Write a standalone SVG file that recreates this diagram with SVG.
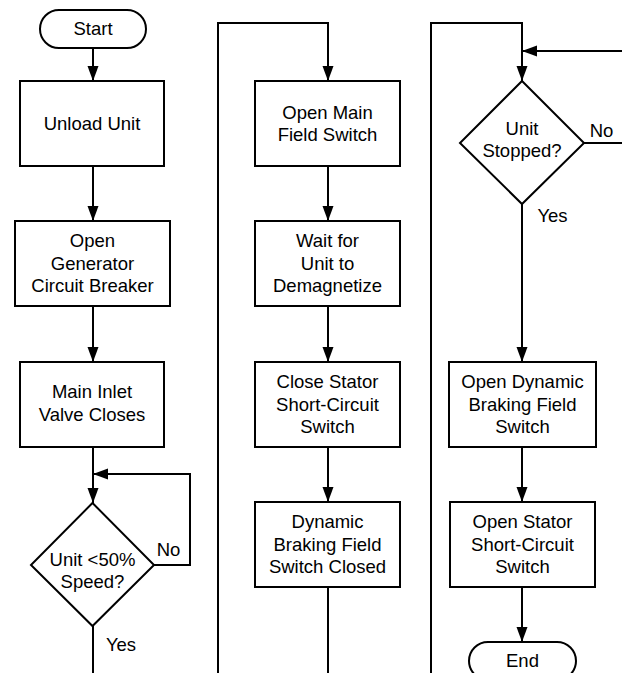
<svg xmlns="http://www.w3.org/2000/svg" width="622" height="673" viewBox="0 0 622 673">
  <style>
    .box { fill: #fff; stroke: #000; stroke-width: 2; }
    .wire { fill: none; stroke: #000; stroke-width: 2; }
    .arrow { marker-end: url(#head); }
    text { font-family: "Liberation Sans", Arial, sans-serif; font-size: 18.5px; fill: #000; text-anchor: middle; }
  </style>
  <defs>
    <marker id="head" markerUnits="userSpaceOnUse" markerWidth="16" markerHeight="12" refX="15" refY="6" orient="auto">
      <path d="M0,0.5 L15,6 L0,11.5 z" fill="#000"/>
    </marker>
  </defs>
  <rect width="622" height="673" fill="#fff"/>

  <g id="connectors">
    <!-- column 1 -->
    <path class="wire arrow" d="M93,48 V81"/>
    <path class="wire arrow" d="M93,166 V221"/>
    <path class="wire arrow" d="M93,306 V362"/>
    <path class="wire arrow" d="M93,447 V503"/>
    <path class="wire arrow" d="M154,565 H190 V474 H93"/>
    <path class="wire" d="M93,626 V673"/>
    <!-- column 2 -->
    <path class="wire arrow" d="M218,673 V23 H328 V81"/>
    <path class="wire arrow" d="M328,166 V221"/>
    <path class="wire arrow" d="M328,306 V362"/>
    <path class="wire arrow" d="M328,447 V502"/>
    <path class="wire" d="M328,587 V673"/>
    <!-- column 3 -->
    <path class="wire arrow" d="M431,673 V23 H522 V81"/>
    <path class="wire arrow" d="M622,51 H522"/>
    <path class="wire" d="M584,143 H622"/>
    <path class="wire arrow" d="M522,204 V362"/>
    <path class="wire arrow" d="M522,447 V502"/>
    <path class="wire arrow" d="M522,587 V642"/>
  </g>

  <g id="start">
    <rect class="box" x="40" y="10" width="106" height="38" rx="19"/>
    <text x="93" y="35">Start</text>
  </g>
  <g id="unload-unit">
    <rect class="box" x="20" y="81" width="144" height="85"/>
    <text x="92" y="129.5">Unload Unit</text>
  </g>
  <g id="open-breaker">
    <rect class="box" x="15" y="221" width="155" height="85"/>
    <text x="92.5" y="247">Open</text>
    <text x="92.5" y="269.5">Generator</text>
    <text x="92.5" y="292">Circuit Breaker</text>
  </g>
  <g id="inlet-valve">
    <rect class="box" x="20" y="362" width="144" height="85"/>
    <text x="92" y="398">Main Inlet</text>
    <text x="92" y="421">Valve Closes</text>
  </g>
  <g id="speed-check">
    <path class="box" d="M92.5,503 L154,565 L92.5,626 L31,565 z"/>
    <text x="92.5" y="566">Unit &lt;50%</text>
    <text x="92.5" y="588">Speed?</text>
    <text x="168.5" y="556">No</text>
    <text x="121" y="651">Yes</text>
  </g>

  <g id="open-main-field">
    <rect class="box" x="255" y="81" width="145" height="85"/>
    <text x="327.5" y="118.5">Open Main</text>
    <text x="327.5" y="141">Field Switch</text>
  </g>
  <g id="demagnetize">
    <rect class="box" x="255" y="221" width="145" height="85"/>
    <text x="327.5" y="247">Wait for</text>
    <text x="327.5" y="269.5">Unit to</text>
    <text x="327.5" y="292">Demagnetize</text>
  </g>
  <g id="close-stator">
    <rect class="box" x="255" y="362" width="145" height="85"/>
    <text x="327.5" y="388">Close Stator</text>
    <text x="327.5" y="410.5">Short-Circuit</text>
    <text x="327.5" y="433">Switch</text>
  </g>
  <g id="braking-closed">
    <rect class="box" x="255" y="502" width="145" height="85"/>
    <text x="327.5" y="528">Dynamic</text>
    <text x="327.5" y="550.5">Braking Field</text>
    <text x="327.5" y="573">Switch Closed</text>
  </g>

  <g id="stopped-check">
    <path class="box" d="M522,81 L584,143 L522,204 L460,143 z"/>
    <text x="522" y="135">Unit</text>
    <text x="522" y="157">Stopped?</text>
    <text x="601.5" y="137">No</text>
    <text x="552.5" y="222">Yes</text>
  </g>
  <g id="open-braking">
    <rect class="box" x="449" y="362" width="147" height="85"/>
    <text x="522.5" y="388">Open Dynamic</text>
    <text x="522.5" y="410.5">Braking Field</text>
    <text x="522.5" y="433">Switch</text>
  </g>
  <g id="open-stator">
    <rect class="box" x="450" y="502" width="145" height="85"/>
    <text x="522.5" y="528">Open Stator</text>
    <text x="522.5" y="550.5">Short-Circuit</text>
    <text x="522.5" y="573">Switch</text>
  </g>
  <g id="end">
    <rect class="box" x="469" y="642" width="107" height="38" rx="19"/>
    <text x="522.5" y="667">End</text>
  </g>
</svg>
